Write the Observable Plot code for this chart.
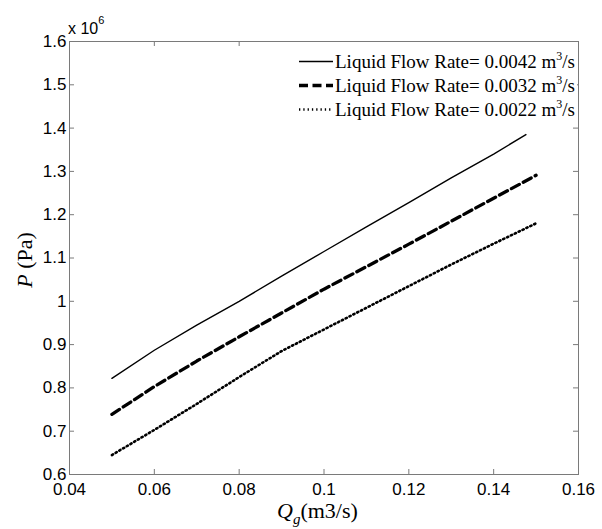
<!DOCTYPE html>
<html>
<head>
<meta charset="utf-8">
<script src="https://cdn.jsdelivr.net/npm/d3@7"></script>
<script src="https://cdn.jsdelivr.net/npm/@observablehq/plot@0.6"></script>
<style>
  body { margin: 0; background: #fff; }
  #wrap { width: 602px; height: 529px; }
</style>
</head>
<body>
<div id="wrap"></div>
<script>
// Gas flow rate Qg (m3/s) and pressure P (x 10^6 Pa)
const qg42 = [0.05, 0.06, 0.07, 0.08, 0.09, 0.10, 0.11, 0.12, 0.13, 0.14, 0.1476];
const p42  = [0.822, 0.887, 0.945, 1.000, 1.058, 1.115, 1.172, 1.228, 1.285, 1.340, 1.385];
const qg   = [0.05, 0.06, 0.07, 0.08, 0.09, 0.10, 0.11, 0.12, 0.13, 0.14, 0.15];
const p32  = [0.739, 0.803, 0.862, 0.918, 0.973, 1.028, 1.080, 1.132, 1.185, 1.238, 1.291];
const p22  = [0.645, 0.703, 0.763, 0.825, 0.885, 0.935, 0.985, 1.035, 1.085, 1.133, 1.180];

const seriesNames = ["Liquid Flow Rate= 0.0042 m", "Liquid Flow Rate= 0.0032 m", "Liquid Flow Rate= 0.0022 m"];
const xTicks = [0.04, 0.06, 0.08, 0.10, 0.12, 0.14, 0.16];
const yTicks = [0.6, 0.7, 0.8, 0.9, 1.0, 1.1, 1.2, 1.3, 1.4, 1.5, 1.6];
const xTickLabels = ["0.04", "0.06", "0.08", "0.1", "0.12", "0.14", "0.16"];
const yTickLabels = ["0.6", "0.7", "0.8", "0.9", "1", "1.1", "1.2", "1.3", "1.4", "1.5", "1.6"];

const rows42 = qg42.map((x, i) => ({x, y: p42[i]}));
const rows32 = qg.map((x, i) => ({x, y: p32[i]}));
const rows22 = qg.map((x, i) => ({x, y: p22[i]}));

const frameColor = "#7a7a7a";
const W = 602, H = 529, mL = 69, mR = 24, mT = 41, mB = 55;
const fw = W - mL - mR, fh = H - mT - mB, tl = 5;

const chart = Plot.plot({
  width: W, height: H,
  marginLeft: mL, marginRight: mR, marginTop: mT, marginBottom: mB,
  style: {fontFamily: "'Liberation Sans', Arial, sans-serif", color: "#000", background: "#fff"},
  x: {domain: [0.04, 0.16]},
  y: {domain: [0.6, 1.6]},
  marks: [
    Plot.line(rows42, {x: "x", y: "y", stroke: "#000", strokeWidth: 1.4}),
    Plot.line(rows32, {x: "x", y: "y", stroke: "#000", strokeWidth: 3.3, strokeDasharray: "9,4.5"}),
    Plot.line(rows22, {x: "x", y: "y", stroke: "#000", strokeWidth: 2.6, strokeDasharray: "1.3,3"}),
    Plot.tickX(xTicks, {x: d => d, stroke: frameColor, insetTop: fh - tl}),
    Plot.tickX(xTicks, {x: d => d, stroke: frameColor, insetBottom: fh - tl}),
    Plot.tickY(yTicks, {y: d => d, stroke: frameColor, insetRight: fw - tl}),
    Plot.tickY(yTicks, {y: d => d, stroke: frameColor, insetLeft: fw - tl}),
    Plot.frame({stroke: frameColor}),
    Plot.axisX(xTicks, {tickSize: 0, tickPadding: 8, fontSize: 17, tickFormat: (d, i) => xTickLabels[i], label: null}),
    Plot.axisY(yTicks, {tickSize: 0, tickPadding: 3, fontSize: 17, tickFormat: (d, i) => yTickLabels[i], label: null})
  ]
});

document.getElementById("wrap").appendChild(chart);
const svg = d3.select(chart);

// exponent label
const ex = svg.append("text").attr("x", 68).attr("y", 34).attr("text-anchor", "start")
  .attr("font-family", "'Liberation Sans', Arial, sans-serif").attr("font-size", 16).attr("fill", "#000");
ex.append("tspan").text("x 10");
ex.append("tspan").attr("dy", -10).attr("font-size", 11).text("6");

// y label
const yl = svg.append("text").attr("transform", "translate(32,260) rotate(-90)")
  .attr("text-anchor", "middle").attr("font-family", "'Liberation Serif', 'Times New Roman', serif")
  .attr("font-size", 22).attr("fill", "#000");
yl.append("tspan").attr("font-style", "italic").text("P");
yl.append("tspan").text(" (Pa)");

// x label
const xl = svg.append("text").attr("x", 277).attr("y", 518).attr("text-anchor", "start")
  .attr("font-family", "'Liberation Serif', 'Times New Roman', serif")
  .attr("font-size", 22).attr("fill", "#000");
xl.append("tspan").attr("font-style", "italic").text("Q");
xl.append("tspan").attr("font-style", "italic").attr("font-size", 15).attr("dy", 6).text("g");
xl.append("tspan").attr("dy", -6).text("(m3/s)");

// legend
const lg = svg.append("g");
lg.append("rect").attr("x", 293).attr("y", 42).attr("width", 284).attr("height", 84).attr("fill", "#fff");
const styles = [
  {w: 1.4, dash: null},
  {w: 3.3, dash: "9,4.5"},
  {w: 2.6, dash: "1.3,3"}
];
seriesNames.forEach((name, i) => {
  const base = 67.5 + 24 * i;
  const ln = lg.append("line").attr("x1", 299).attr("x2", 333).attr("y1", base - 6).attr("y2", base - 6)
    .attr("stroke", "#000").attr("stroke-width", styles[i].w);
  if (styles[i].dash) ln.attr("stroke-dasharray", styles[i].dash);
  const t = lg.append("text").attr("x", 335).attr("y", base).attr("text-anchor", "start")
    .attr("font-family", "'Liberation Serif', 'Times New Roman', serif").attr("font-size", 19).attr("fill", "#000");
  t.append("tspan").text(name);
  t.append("tspan").attr("dy", -8).attr("font-size", 12).text("3");
  t.append("tspan").attr("dy", 8).text("/s");
});
</script>
</body>
</html>
